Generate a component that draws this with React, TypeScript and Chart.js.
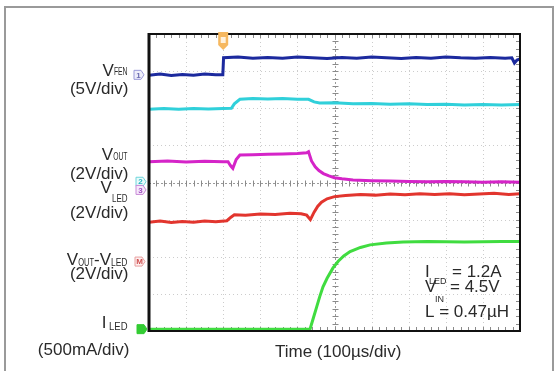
import React, { useEffect, useRef } from "react";
import { Chart, registerables } from "chart.js";

Chart.register(...registerables);

// Time in divisions (100µs/div), levels in divisions from the bottom of the screen
const fenTime = [0, 0.3, 0.6, 0.9, 1.2, 1.5, 1.8, 1.99, 2.01, 2.4, 2.8, 3.2, 3.6, 4.0, 4.4, 4.8, 5.2, 5.6, 6.0, 6.4, 6.8, 7.2, 7.6, 8.0, 8.4, 8.8, 9.2, 9.6, 9.78, 9.85, 9.92, 10];
const fenLevel = [6.89, 6.92, 6.88, 6.91, 6.89, 6.92, 6.9, 6.9, 7.36, 7.38, 7.35, 7.37, 7.35, 7.38, 7.36, 7.34, 7.37, 7.35, 7.38, 7.36, 7.34, 7.37, 7.35, 7.38, 7.36, 7.35, 7.37, 7.35, 7.36, 7.22, 7.3, 7.33];

const cyanTime = [0, 0.4, 0.8, 1.2, 1.6, 2.0, 2.22, 2.3, 2.45, 2.8, 3.2, 3.6, 4.0, 4.3, 4.45, 4.6, 5.0, 5.5, 6.0, 6.5, 7.0, 7.5, 8.0, 8.5, 9.0, 9.5, 10];
const cyanLevel = [5.97, 5.99, 5.97, 5.99, 5.98, 5.99, 6.0, 6.12, 6.24, 6.26, 6.25, 6.26, 6.24, 6.24, 6.17, 6.14, 6.15, 6.12, 6.13, 6.11, 6.12, 6.1, 6.11, 6.09, 6.1, 6.09, 6.1];

const outTime = [0, 0.5, 1.0, 1.5, 2.0, 2.13, 2.2, 2.26, 2.35, 2.45, 2.8, 3.2, 3.6, 4.0, 4.25, 4.3, 4.38, 4.48, 4.58, 4.7, 4.85, 5.0, 5.2, 5.5, 6.0, 6.5, 7.0, 7.5, 8.0, 8.5, 9.0, 9.5, 10];
const outLevel = [4.56, 4.58, 4.55, 4.57, 4.56, 4.56, 4.45, 4.38, 4.62, 4.74, 4.75, 4.76, 4.77, 4.78, 4.8, 4.83, 4.58, 4.42, 4.32, 4.24, 4.18, 4.13, 4.1, 4.07, 4.05, 4.04, 4.03, 4.02, 4.03, 4.02, 4.01, 4.02, 4.01];

const ledTime = [0, 0.3, 0.6, 0.9, 1.2, 1.5, 1.8, 2.1, 2.2, 2.3, 2.6, 3.0, 3.4, 3.8, 4.1, 4.25, 4.35, 4.45, 4.55, 4.65, 4.8, 5.0, 5.3, 5.7, 6.1, 6.5, 6.9, 7.3, 7.7, 8.1, 8.5, 8.9, 9.3, 9.7, 10];
const ledLevel = [2.93, 2.96, 2.92, 2.95, 2.93, 2.96, 2.94, 2.97, 3.06, 3.13, 3.12, 3.15, 3.14, 3.17, 3.16, 3.12, 3.0, 3.2, 3.36, 3.47, 3.56, 3.62, 3.65, 3.68, 3.66, 3.69, 3.67, 3.7, 3.68, 3.7, 3.67, 3.69, 3.71, 3.68, 3.7];

const iledTime = [0, 1, 2, 3, 4, 4.34, 4.43, 4.52, 4.6, 4.69, 4.8, 4.96, 5.1, 5.25, 5.42, 5.7, 5.96, 6.4, 6.85, 7.5, 8.5, 9.5, 10];
const iledLevel = [0.05, 0.05, 0.05, 0.05, 0.05, 0.05, 0.35, 0.65, 0.92, 1.19, 1.42, 1.7, 1.88, 2.02, 2.14, 2.25, 2.32, 2.37, 2.4, 2.41, 2.4, 2.41, 2.41];

const xDivisions = 10;
const yDivisions = 8;

const FONT = '"Liberation Sans", Arial, sans-serif';
const TEXT = "#2a2a2a";

type Part = { t: string; size: number; dy?: number; sx?: number };

function drawParts(ctx: CanvasRenderingContext2D, parts: Part[], x: number, y: number, align: "left" | "right") {
  const widths = parts.map((p) => {
    ctx.font = `${p.size}px ${FONT}`;
    return ctx.measureText(p.t).width * (p.sx ?? 1);
  });
  const total = widths.reduce((a, b) => a + b, 0);
  let cx = align === "right" ? x - total : x;
  parts.forEach((p, i) => {
    ctx.save();
    ctx.font = `${p.size}px ${FONT}`;
    ctx.translate(cx, y + (p.dy ?? 0));
    ctx.scale(p.sx ?? 1, 1);
    ctx.fillText(p.t, 0, 0);
    ctx.restore();
    cx += widths[i];
  });
}

function tag(ctx: CanvasRenderingContext2D, x: number, y: number, label: string, stroke: string, fill: string, textColor: string) {
  ctx.save();
  ctx.beginPath();
  ctx.moveTo(x, y - 4.5);
  ctx.lineTo(x + 7, y - 4.5);
  ctx.lineTo(x + 10, y);
  ctx.lineTo(x + 7, y + 4.5);
  ctx.lineTo(x, y + 4.5);
  ctx.closePath();
  ctx.fillStyle = fill;
  ctx.fill();
  ctx.strokeStyle = stroke;
  ctx.lineWidth = 1;
  ctx.stroke();
  ctx.fillStyle = textColor;
  ctx.font = `bold 8px ${FONT}`;
  ctx.textAlign = "center";
  ctx.textBaseline = "middle";
  ctx.fillText(label, x + 4.5, y + 0.5);
  ctx.restore();
}

const scopePlugin = {
  id: "scope",
  beforeDraw(chart: any) {
    const ctx: CanvasRenderingContext2D = chart.ctx;
    ctx.save();
    ctx.fillStyle = "#fff";
    ctx.fillRect(0, 0, chart.width, chart.height);
    ctx.strokeStyle = "#9a9a9a";
    ctx.lineWidth = 2;
    ctx.beginPath();
    ctx.moveTo(5, 375);
    ctx.lineTo(5, 7);
    ctx.lineTo(553, 7);
    ctx.lineTo(553, 375);
    ctx.stroke();
    ctx.restore();
  },
  beforeDatasetsDraw(chart: any) {
    const ctx: CanvasRenderingContext2D = chart.ctx;
    const { left, right, top, bottom } = chart.chartArea;
    const dx = (right - left) / xDivisions;
    const dy = (bottom - top) / yDivisions;
    ctx.save();
    ctx.lineWidth = 1;
    ctx.strokeStyle = "#cccccc";
    ctx.setLineDash([1, 3]);
    for (let i = 1; i < xDivisions; i++) {
      if (i === xDivisions / 2) continue;
      const x = Math.round(left + i * dx) + 0.5;
      ctx.beginPath();
      ctx.moveTo(x, top);
      ctx.lineTo(x, bottom);
      ctx.stroke();
    }
    for (let j = 1; j < yDivisions; j++) {
      if (j === yDivisions / 2) continue;
      const y = Math.round(top + j * dy) + 0.5;
      ctx.beginPath();
      ctx.moveTo(left, y);
      ctx.lineTo(right, y);
      ctx.stroke();
    }
    ctx.strokeStyle = "#9a9a9a";
    ctx.setLineDash([2, 2]);
    const cx = Math.round(left + (xDivisions / 2) * dx) + 0.5;
    const cy = Math.round(top + (yDivisions / 2) * dy) + 0.5;
    ctx.beginPath();
    ctx.moveTo(cx, top);
    ctx.lineTo(cx, bottom);
    ctx.moveTo(left, cy);
    ctx.lineTo(right, cy);
    ctx.stroke();
    ctx.setLineDash([]);
    ctx.strokeStyle = "#8a8a8a";
    ctx.beginPath();
    for (let k = 1; k < xDivisions * 5; k++) {
      const x = Math.round(left + (k * dx) / 5) + 0.5;
      ctx.moveTo(x, cy - 3);
      ctx.lineTo(x, cy + 3);
      ctx.moveTo(x, top);
      ctx.lineTo(x, top + 4);
      ctx.moveTo(x, bottom);
      ctx.lineTo(x, bottom - 4);
    }
    for (let k = 1; k < yDivisions * 5; k++) {
      const y = Math.round(top + (k * dy) / 5) + 0.5;
      ctx.moveTo(cx - 3, y);
      ctx.lineTo(cx + 3, y);
      ctx.moveTo(right, y);
      ctx.lineTo(right - 4, y);
    }
    ctx.stroke();
    ctx.restore();
  },
  afterDatasetsDraw(chart: any) {
    const ctx: CanvasRenderingContext2D = chart.ctx;
    const { left, right, top, bottom } = chart.chartArea;
    const ys = chart.scales.y;
    const xs = chart.scales.x;
    ctx.save();
    ctx.strokeStyle = "#111";
    ctx.lineWidth = 2;
    ctx.strokeRect(left, top, right - left, bottom - top);
    ctx.lineWidth = 3;
    ctx.beginPath();
    ctx.moveTo(left, top - 1);
    ctx.lineTo(left, bottom + 1);
    ctx.stroke();

    tag(ctx, 134, ys.getPixelForValue(6.9), "1", "#9a9ad8", "#eeeefa", "#6a6ab0");
    tag(ctx, 136, ys.getPixelForValue(4.02), "2", "#6fd6dc", "#e8fafa", "#2bb4c0");
    tag(ctx, 136, ys.getPixelForValue(3.8), "3", "#c98ad8", "#f6e8fa", "#a050c0");
    tag(ctx, 135, ys.getPixelForValue(1.87), "M", "#e8a0a0", "#fdeeee", "#d05050");
    tag(ctx, 137, ys.getPixelForValue(0.05), "", "#3c3", "#3c3", "#fff");

    const tx = xs.getPixelForValue(2.0);
    ctx.beginPath();
    ctx.moveTo(tx - 5, top - 2);
    ctx.lineTo(tx + 5, top - 2);
    ctx.lineTo(tx + 5, top + 11);
    ctx.lineTo(tx, top + 16);
    ctx.lineTo(tx - 5, top + 11);
    ctx.closePath();
    ctx.fillStyle = "#f6b860";
    ctx.fill();
    ctx.fillStyle = "#fff1dc";
    ctx.fillRect(tx - 2.5, top + 3, 5, 6);
    ctx.restore();
  },
  afterDraw(chart: any) {
    const ctx: CanvasRenderingContext2D = chart.ctx;
    ctx.save();
    ctx.fillStyle = TEXT;
    ctx.textBaseline = "alphabetic";
    const R = 127.5;
    drawParts(ctx, [{ t: "V", size: 17 }, { t: "FEN", size: 10, dy: -1, sx: 0.68 }], R, 76, "right");
    drawParts(ctx, [{ t: "(5V/div)", size: 17 }], R + 1, 94, "right");
    drawParts(ctx, [{ t: "V", size: 17 }, { t: "OUT", size: 10, dy: 0, sx: 0.68 }], R, 160, "right");
    drawParts(ctx, [{ t: "(2V/div)", size: 17 }], R + 1, 179, "right");
    drawParts(ctx, [{ t: "V", size: 17 }, { t: "LED", size: 10, dy: 9, sx: 0.8 }], R, 193, "right");
    drawParts(ctx, [{ t: "(2V/div)", size: 17 }], R + 1, 218, "right");
    drawParts(
      ctx,
      [
        { t: "V", size: 17 },
        { t: "OUT", size: 10, dy: 1, sx: 0.75 },
        { t: "-", size: 17 },
        { t: "V", size: 17 },
        { t: "LED", size: 10, dy: 1, sx: 0.85 },
      ],
      R,
      265,
      "right"
    );
    drawParts(ctx, [{ t: "(2V/div)", size: 17 }], R + 1, 279, "right");
    drawParts(ctx, [{ t: "I", size: 17 }, { t: " LED", size: 10, dy: 2, sx: 0.95 }], R, 328, "right");
    drawParts(ctx, [{ t: "(500mA/div)", size: 17 }], R + 2, 355, "right");

    drawParts(ctx, [{ t: "Time (100µs/div)", size: 17 }], 275, 357, "left");

    drawParts(ctx, [{ t: "I", size: 17 }], 425, 277, "left");
    drawParts(ctx, [{ t: "LED", size: 9 }], 429, 284, "left");
    drawParts(ctx, [{ t: "= 1.2A", size: 17 }], 452, 277, "left");
    drawParts(ctx, [{ t: "V", size: 17 }], 425, 292, "left");
    drawParts(ctx, [{ t: "IN", size: 9 }], 435, 302, "left");
    drawParts(ctx, [{ t: "= 4.5V", size: 17 }], 450, 292, "left");
    drawParts(ctx, [{ t: "L = 0.47µH", size: 17 }], 425, 317, "left");
    ctx.restore();
  },
};

function series(time: number[], level: number[]) {
  return time.map((t, i) => ({ x: t, y: level[i] }));
}

export default function App() {
  const ref = useRef<HTMLCanvasElement | null>(null);
  useEffect(() => {
    if (!ref.current) return;
    const mk = (label: string, time: number[], level: number[], color: string) => ({
      label,
      data: series(time, level),
      borderColor: color,
      backgroundColor: color,
      borderWidth: 3,
      pointRadius: 0,
      tension: 0,
      fill: false,
    });
    const chart = new Chart(ref.current, {
      type: "line",
      data: {
        datasets: [
          mk("VFEN", fenTime, fenLevel, "#1c2a9e"),
          mk("CH2", cyanTime, cyanLevel, "#30d0da"),
          mk("VOUT", outTime, outLevel, "#d524c8"),
          mk("VLED", ledTime, ledLevel, "#e2352e"),
          mk("ILED", iledTime, iledLevel, "#40dc40"),
        ],
      },
      options: {
        animation: false,
        responsive: false,
        maintainAspectRatio: false,
        layout: { padding: { left: 149, right: 37, top: 34, bottom: 40 } },
        plugins: { legend: { display: false }, tooltip: { enabled: false }, title: { display: false } },
        scales: {
          x: { type: "linear", min: 0, max: xDivisions, display: false },
          y: { type: "linear", min: 0, max: yDivisions, display: false },
        },
      },
      plugins: [scopePlugin],
    } as any);
    return () => chart.destroy();
  }, []);
  return (
    <div style={{ position: "fixed", left: 0, top: 0, width: 557, height: 371, background: "#fff" }}>
      <canvas ref={ref} width={557} height={371} style={{ display: "block", width: 557, height: 371 }} />
    </div>
  );
}
